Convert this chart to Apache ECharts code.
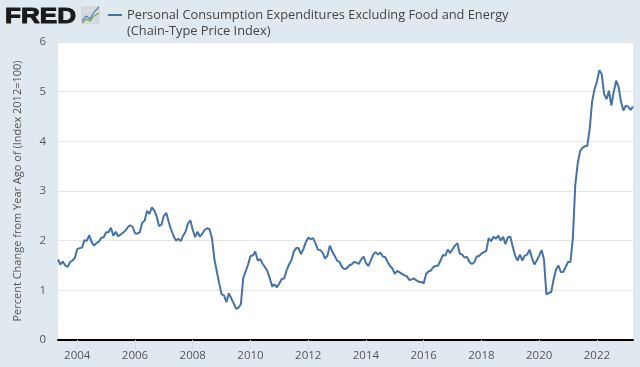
<!DOCTYPE html>
<html><head><meta charset="utf-8">
<style>html,body{margin:0;padding:0;background:#e1e9f0}#c{width:640px;height:367px}</style>
<script src="https://cdn.jsdelivr.net/npm/echarts@6/dist/echarts.min.js"></script>
</head><body><div id="c"></div>
<script>
const startYear = 2003, startMonth = 5;
const seriesName = 'Personal Consumption Expenditures Excluding Food and Energy';
const seriesSub = '(Chain-Type Price Index)';
const yAxisName = 'Percent Change from Year Ago of (Index 2012=100)';
const v2003 = [1.62,1.52,1.58,1.50,1.47,1.57,1.60,1.65];
const v2004 = [1.83,1.85,1.86,2.01,2.00,2.11,1.97,1.90,1.95,1.98,2.06,2.07];
const v2005 = [2.17,2.17,2.26,2.10,2.18,2.09,2.12,2.16,2.20,2.27,2.31,2.28];
const v2006 = [2.15,2.14,2.17,2.36,2.40,2.60,2.54,2.67,2.61,2.49,2.29,2.32];
const v2007 = [2.50,2.56,2.38,2.22,2.10,2.00,2.04,1.99,2.10,2.18,2.34,2.41];
const v2008 = [2.22,2.07,2.18,2.08,2.14,2.22,2.25,2.23,2.05,1.63,1.38,1.14];
const v2009 = [0.92,0.90,0.76,0.94,0.84,0.74,0.63,0.65,0.72,1.25,1.38,1.52];
const v2010 = [1.69,1.70,1.78,1.60,1.63,1.54,1.47,1.39,1.25,1.08,1.12,1.06];
const v2011 = [1.14,1.23,1.24,1.40,1.52,1.60,1.78,1.85,1.85,1.73,1.83,1.97];
const v2012 = [2.06,2.03,2.05,1.95,1.82,1.81,1.76,1.64,1.70,1.90,1.78,1.69];
const v2013 = [1.60,1.57,1.47,1.43,1.44,1.50,1.52,1.57,1.56,1.53,1.62,1.68];
const v2014 = [1.55,1.49,1.60,1.72,1.77,1.72,1.76,1.68,1.67,1.57,1.49,1.44];
const v2015 = [1.33,1.39,1.36,1.33,1.30,1.28,1.21,1.22,1.24,1.20,1.17,1.17];
const v2016 = [1.14,1.33,1.38,1.40,1.47,1.49,1.50,1.60,1.71,1.70,1.82,1.75];
const v2017 = [1.83,1.90,1.95,1.74,1.72,1.66,1.67,1.57,1.53,1.56,1.68,1.69];
const v2018 = [1.74,1.77,1.79,2.05,1.99,2.08,2.04,2.10,2.00,2.08,1.93,2.07];
const v2019 = [2.08,1.88,1.70,1.60,1.72,1.60,1.70,1.72,1.82,1.65,1.52,1.60];
const v2020 = [1.70,1.81,1.62,0.92,0.95,0.96,1.22,1.42,1.50,1.37,1.37,1.47];
const v2021 = [1.57,1.57,2.05,3.12,3.55,3.80,3.87,3.90,3.91,4.25,4.80,5.05];
const v2022 = [5.20,5.43,5.35,4.95,4.85,5.02,4.72,5.00,5.22,5.10,4.80,4.62];
const v2023 = [4.72,4.70,4.63,4.70];
const values = [].concat(v2003,v2004,v2005,v2006,v2007,v2008,v2009,v2010,v2011,v2012,v2013,v2014,v2015,v2016,v2017,v2018,v2019,v2020,v2021,v2022,v2023);
const categories = values.map((_,i)=>{
  const m = startMonth-1+i, y = startYear+Math.floor(m/12), mm = m%12+1;
  return y+'-'+String(mm).padStart(2,'0');
});
const isTick = (i,c)=>{const [y,m]=c.split('-');return m==='01' && (+y)%2===0;};
const font = '"Open Sans","Noto Sans",sans-serif';
const chart = echarts.init(document.getElementById('c'),null,{renderer:'canvas'});
chart.setOption({
  animation:false,
  backgroundColor:'#e1e9f0',
  title:{text:seriesName+'\n'+seriesSub,left:122,top:3,
    textStyle:{fontFamily:font,fontSize:12.8,fontWeight:'normal',color:'#444',lineHeight:15.5}},
  grid:{left:58,right:7,top:42,bottom:27,backgroundColor:'#fff',show:true,borderWidth:0},
  xAxis:{type:'category',data:categories,boundaryGap:false,
    axisLine:{onZero:true,lineStyle:{color:'#000',width:2}},
    axisTick:{show:true,alignWithLabel:true,interval:isTick,length:9,lineStyle:{color:'#d8dde3',width:1}},
    axisLabel:{interval:isTick,formatter:c=>c.slice(0,4),fontFamily:font,fontSize:11.5,color:'#555',margin:10},
    splitLine:{show:false}},
  yAxis:{type:'value',min:0,max:6,interval:1,
    name:yAxisName,nameLocation:'middle',nameGap:35,nameRotate:90,
    nameTextStyle:{fontFamily:font,fontSize:11,color:'#555'},
    axisLine:{show:false},axisTick:{show:false},
    axisLabel:{fontFamily:font,fontSize:11.5,color:'#555',margin:12},
    splitLine:{lineStyle:{color:'#e6e6e6',width:1}}},
  series:[{type:'line',name:seriesName,data:values,showSymbol:false,smooth:false,
    lineStyle:{color:'#4572a7',width:2},itemStyle:{color:'#4572a7'}}],
  graphic:[
    {type:'text',x:5,y:5,scaleX:1.16,style:{text:'FRED',fontFamily:'"Liberation Sans",sans-serif',fontWeight:'bold',fontSize:22.5,fill:'#1a1a1a',stroke:'#1a1a1a',lineWidth:1}},
    {type:'group',x:81,y:6,children:[
      {type:'rect',shape:{x:0,y:0,width:19,height:18,r:2},style:{fill:'#d3d9df'}},
      {type:'polyline',shape:{points:[[1,15],[5,10],[9,13],[13,6],[18,1]]},style:{stroke:'#4f7fb5',fill:null,lineWidth:1.2}},
      {type:'polyline',shape:{points:[[1,17],[5,13],[9,15],[13,10],[18,7]]},style:{stroke:'#7fa34a',fill:null,lineWidth:1.2}}
    ]},
    {type:'rect',shape:{x:108,y:14,width:14,height:2},style:{fill:'#4572a7'}}
  ]
});
</script></body></html>
